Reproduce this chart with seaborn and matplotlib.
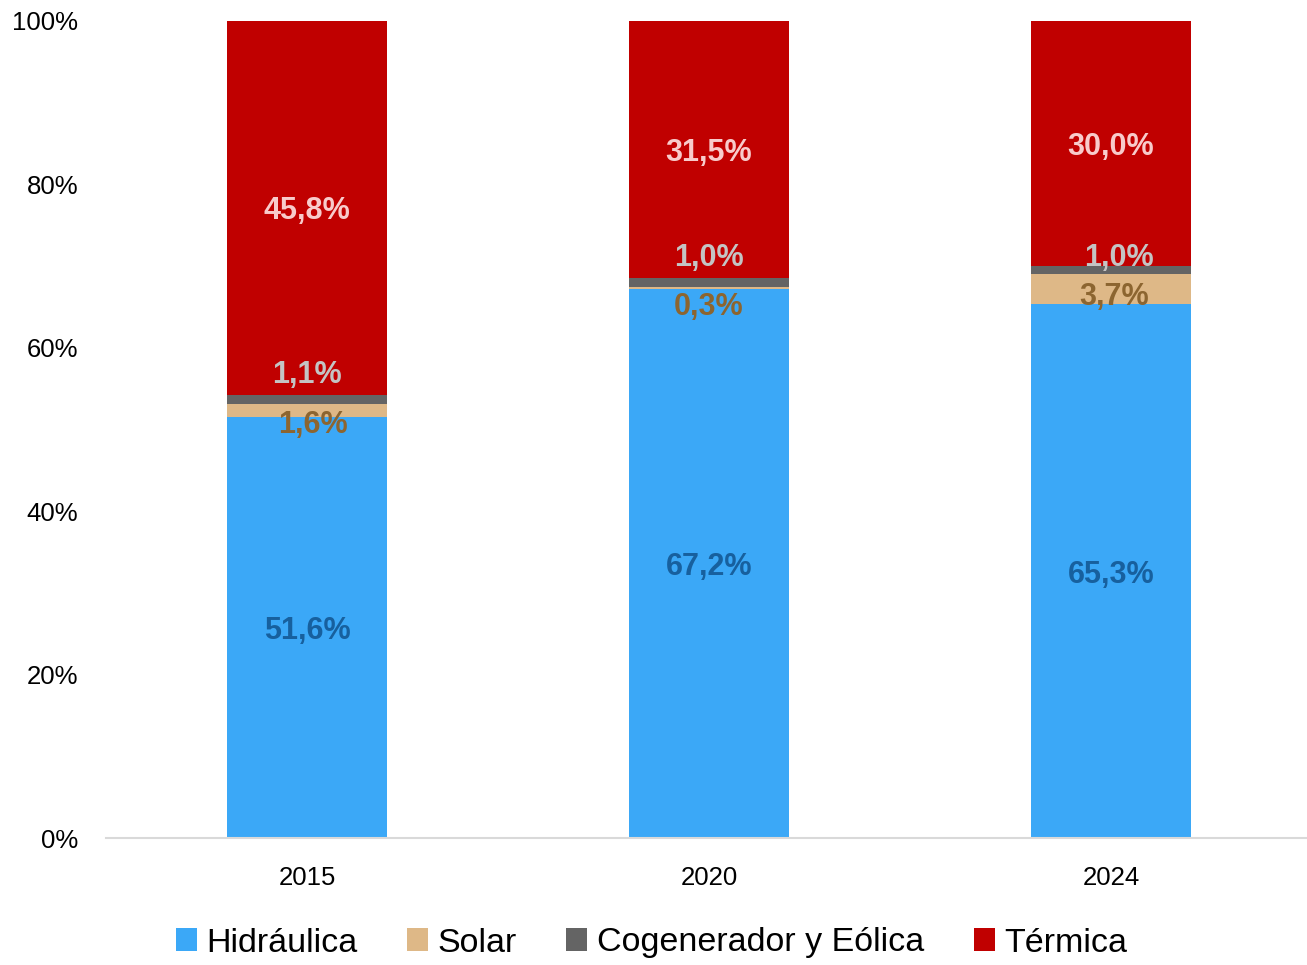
import numpy as np
import pandas as pd
import matplotlib
matplotlib.use("Agg")
import matplotlib.pyplot as plt
from matplotlib.patches import Patch
import seaborn as sns

# ---- data ----
years = ["2015", "2020", "2024"]
series = ["Hidráulica", "Solar", "Cogenerador y Eólica", "Térmica"]
hidraulica = [51.6, 67.2, 65.3]
solar = [1.6, 0.3, 3.7]
cogen = [1.1, 1.0, 1.0]
termica = [45.8, 31.5, 30.0]
yticks = [0, 20, 40, 60, 80, 100]

# ---- style ----
bar_colors = ["#3BA8F7", "#DEB887", "#646464", "#C00000"]
label_colors = ["#17609E", "#8C6530", "#C4C4C4", "#F8CBCB"]
# label offsets (points) for small segments: [series][year]
label_dy = [[0, 0, 0], [-8, -11, -3], [20, 20, 11], [0, 0, 0]]
label_dx = [[0, 0, 0], [4, 0, 2], [0, 0, 6], [0, 0, 0]]
base_dy = -2.5

sns.set_theme(style="white")
plt.rcParams["font.family"] = ["Liberation Sans", "DejaVu Sans"]
plt.rcParams["text.color"] = "black"

values = np.array([hidraulica, solar, cogen, termica])
totals = values.sum(axis=0)
shares = values / totals * 100
cums = np.cumsum(shares, axis=0)

fig = plt.figure(figsize=(13.07, 9.65), dpi=100)
ax = fig.add_axes([106 / 1307, 1 - 838 / 965, 1206 / 1307, 817 / 965])

# draw stacked bars from top layer down (overlapping cumulative bars)
for i in range(len(series) - 1, -1, -1):
    df = pd.DataFrame({"year": years, "val": cums[i]})
    sns.barplot(data=df, x="year", y="val", order=years, color=bar_colors[i],
                width=0.4, saturation=1, linewidth=0, ax=ax)

# data labels
for i in range(len(series)):
    for j in range(len(years)):
        center = cums[i][j] - shares[i][j] / 2
        txt = f"{values[i][j]:.1f}%".replace(".", ",")
        ax.annotate(txt, xy=(j, center),
                    xytext=(label_dx[i][j], label_dy[i][j] + base_dy),
                    textcoords="offset points", ha="center", va="center",
                    fontsize=22, fontweight="bold", color=label_colors[i])

ax.set_xlim(-0.5, 2.5)
ax.set_ylim(0, 100)
ax.set_yticks(yticks)
ax.set_yticklabels([f"{t}%" for t in yticks])
ax.set_xlabel("")
ax.set_ylabel("")
ax.tick_params(axis="both", length=0, labelsize=18.5, labelcolor="black")
ax.tick_params(axis="y", pad=20)
ax.tick_params(axis="x", pad=20)
for s in ["left", "right", "top"]:
    ax.spines[s].set_visible(False)
ax.spines["bottom"].set_color("#D9D9D9")
ax.spines["bottom"].set_linewidth(1.5)
ax.grid(False)

handles = [Patch(facecolor=c, edgecolor="none") for c in bar_colors]
leg = fig.legend(handles, series, loc="center", bbox_to_anchor=(0.4985, 1 - 943 / 965),
                 ncol=4, frameon=False, fontsize=24.5, handlelength=0.62, handleheight=0.62,
                 handletextpad=0.28, columnspacing=1.45)
for t in leg.get_texts():
    t.set_color("black")

fig.savefig("out.png", dpi=100)
